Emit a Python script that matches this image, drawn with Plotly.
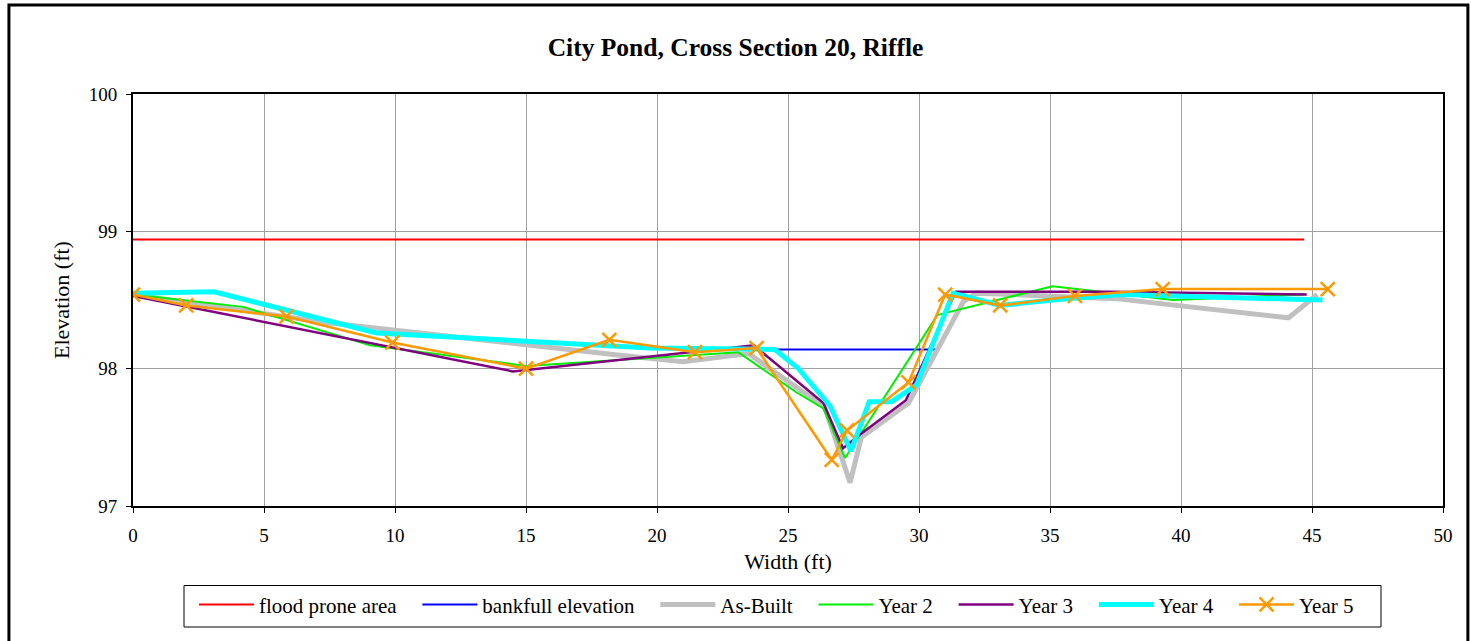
import plotly.graph_objects as go

# Reference elevations
flood_x = [0, 44.7]
flood_y = [98.94, 98.94]
bank_x = [23.8, 30.65]
bank_y = [98.14, 98.14]

# Surveyed cross-section profiles (station ft, elevation ft)
asbuilt_x = [0, 7.6, 18.5, 21.0, 23.5, 26.4, 27.37, 27.8, 29.6, 31.7, 32.2, 37.5, 44.1, 45.2]
asbuilt_y = [98.54, 98.33, 98.10, 98.05, 98.11, 97.72, 97.17, 97.50, 97.75, 98.49, 98.55, 98.51, 98.37, 98.54]

year2_x = [0, 4.2, 9.05, 15.0, 23.1, 25.3, 26.35, 27.18, 30.7, 31.1, 35.1, 39.7, 44.7]
year2_y = [98.54, 98.45, 98.17, 98.02, 98.12, 97.83, 97.71, 97.35, 98.39, 98.41, 98.60, 98.50, 98.54]

year3_x = [0, 14.5, 23.7, 26.35, 27.1, 27.75, 29.5, 31.4, 37.3, 44.8]
year3_y = [98.53, 97.98, 98.17, 97.75, 97.42, 97.52, 97.77, 98.56, 98.56, 98.54]

year4_x = [0, 3.1, 9.3, 19.7, 24.5, 25.4, 26.6, 27.4, 28.1, 28.95, 29.9, 31.3, 33.1, 35.1, 37.7, 45.4]
year4_y = [98.55, 98.56, 98.26, 98.15, 98.14, 98.00, 97.73, 97.40, 97.76, 97.76, 97.88, 98.55, 98.46, 98.50, 98.54, 98.50]

year5_x = [0, 2.03, 5.86, 9.9, 15.0, 18.18, 21.45, 23.8, 26.67, 27.25, 29.6, 31.0, 33.1, 35.95, 39.3, 45.6]
year5_y = [98.54, 98.46, 98.38, 98.19, 98.00, 98.21, 98.12, 98.15, 97.335, 97.55, 97.90, 98.54, 98.46, 98.53, 98.58, 98.58]

x_ticks = list(range(0, 51, 5))
y_ticks = [97, 98, 99, 100]

FONT = "Liberation Serif, Times New Roman, serif"
PAD = "\u00a0\u00a0\u00a0"  # spacing after each legend label

fig = go.Figure()
fig.add_trace(go.Scatter(x=flood_x, y=flood_y, mode="lines", name="flood prone area" + PAD,
                         line=dict(color="#ff0000", width=2)))
fig.add_trace(go.Scatter(x=bank_x, y=bank_y, mode="lines", name="bankfull elevation" + PAD,
                         line=dict(color="#0000ff", width=2)))
fig.add_trace(go.Scatter(x=asbuilt_x, y=asbuilt_y, mode="lines", name="As-Built" + PAD,
                         line=dict(color="#c0c0c0", width=5)))
fig.add_trace(go.Scatter(x=year2_x, y=year2_y, mode="lines", name="Year 2" + PAD,
                         line=dict(color="#00ee00", width=2)))
fig.add_trace(go.Scatter(x=year3_x, y=year3_y, mode="lines", name="Year 3" + PAD,
                         line=dict(color="#800080", width=2.5)))
fig.add_trace(go.Scatter(x=year4_x, y=year4_y, mode="lines", name="Year 4" + PAD,
                         line=dict(color="#00ffff", width=5)))
fig.add_trace(go.Scatter(x=year5_x, y=year5_y, mode="lines+markers", name="Year 5",
                         line=dict(color="#ff9900", width=2.5),
                         marker=dict(symbol="x-thin", size=14,
                                     line=dict(color="#ff9900", width=2.5))))

axis_common = dict(
    showgrid=True, gridcolor="#a0a0a0", gridwidth=1,
    showline=True, linecolor="black", linewidth=2, mirror=True,
    ticks="outside", ticklen=5, tickcolor="black", tickwidth=1,
    zeroline=False,
    tickfont=dict(family=FONT, size=19, color="black"),
)

fig.update_layout(
    width=1471, height=641,
    margin=dict(l=133, r=28, t=94, b=135),
    paper_bgcolor="white", plot_bgcolor="white",
    font=dict(family=FONT, color="black"),
    title=dict(text="<b>City Pond, Cross Section 20, Riffle</b>", x=0.5, xref="container",
               xanchor="center", y=1 - 47 / 641, yref="container", yanchor="middle",
               font=dict(family=FONT, size=25.5, color="black")),
    xaxis=dict(range=[0, 50], tickvals=x_ticks, ticklabelstandoff=6,
               title=dict(text="Width (ft)", font=dict(family=FONT, size=22), standoff=9),
               **axis_common),
    yaxis=dict(range=[97, 100], tickvals=y_ticks, ticklabelstandoff=5,
               title=dict(text="Elevation (ft)", font=dict(family=FONT, size=22), standoff=13),
               **axis_common),
    showlegend=True,
    legend=dict(orientation="h", x=(194 - 133) / 1310, xanchor="left", y=-0.19, yanchor="top",
                borderwidth=0, bgcolor="rgba(0,0,0,0)",
                font=dict(family=FONT, size=21, color="black"),
                itemwidth=55, tracegroupgap=0),
)

# legend box
fig.add_shape(type="rect", xref="paper", yref="paper",
              x0=(184 - 133) / 1310, x1=(1381 - 133) / 1310,
              y0=(506 - 627) / 412, y1=(506 - 585.5) / 412,
              line=dict(color="black", width=1), fillcolor="white", layer="below")

# outer chart frame
fig.add_shape(type="rect", xref="paper", yref="paper",
              x0=-0.0947, x1=1.019, y0=-0.40, y1=1.216,
              line=dict(color="black", width=3), layer="below")

fig.write_html("out.html")
